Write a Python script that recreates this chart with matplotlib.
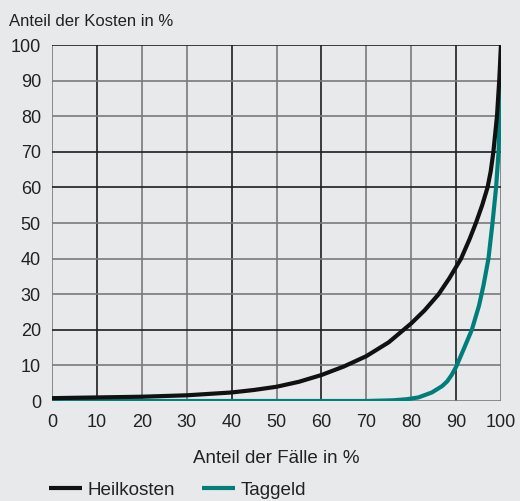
import matplotlib
matplotlib.use('Agg')
import matplotlib.pyplot as plt

# Anteil der Fälle in % (x) vs. Anteil der Kosten in % (y)
heil_x = [0, 5, 10, 15, 20, 25, 30, 35, 40, 45, 50, 55, 60, 65, 70, 75, 78.3,
          80, 83, 86.1, 88.5, 91.1, 93, 94.4, 95.8, 97.0, 97.7, 98.3, 99.1,
          99.6, 100]
heil_y = [0.8, 0.9, 1.0, 1.1, 1.2, 1.4, 1.6, 2.0, 2.4, 3.1, 4.0, 5.4, 7.3, 9.7,
          12.6, 16.5, 20.0, 21.8, 25.5, 30.0, 34.5, 40.0, 45.5, 50.0, 55.0,
          60.0, 64.5, 70.0, 80.0, 90.0, 100.0]

tag_x = [0, 70, 76, 79, 81.6, 84.6, 86.9, 88, 89, 90, 91.7, 93.5, 95.1, 96.1,
         97.2, 98.1, 98.9, 99.45, 99.7, 99.85, 100]
tag_y = [0, 0, 0.2, 0.5, 1.0, 2.4, 4.2, 5.5, 7.3, 9.6, 14.6, 20, 26.8, 32.5,
         40, 50, 60, 70, 80, 90, 100]

ticks = list(range(0, 101, 10))

BG = '#e8e9eb'
TEAL = '#007f7a'
DARK = '#1e1e1e'
GRAY = '#7a7a7a'
TXT = '#222222'

plt.rcParams['font.family'] = ['Liberation Sans', 'DejaVu Sans']

fig = plt.figure(figsize=(5.2, 5.01), dpi=100, facecolor=BG)
ax = fig.add_axes([0.1, 0.1996, 0.8635, 0.7104], facecolor=BG)

# grid lines in two shades, like the printed original
v_colors = [GRAY, DARK, GRAY, GRAY, DARK, GRAY, DARK, GRAY, GRAY, DARK, GRAY]
h_colors = [GRAY, GRAY, DARK, GRAY, GRAY, GRAY, DARK, DARK, GRAY, GRAY, DARK]
for t, c in zip(ticks, v_colors):
    ax.axvline(t, color=c, lw=1.2, zorder=1)
for t, c in zip(ticks, h_colors):
    ax.axhline(t, color=c, lw=1.2, zorder=1)

ax.plot(heil_x, heil_y, color='#111111', lw=3, label='Heilkosten', zorder=4,
        solid_capstyle='butt', solid_joinstyle='round')
ax.plot(tag_x, tag_y, color=TEAL, lw=3, label='Taggeld', zorder=3,
        solid_capstyle='butt', solid_joinstyle='round')

ax.set_xlim(0, 100)
ax.set_ylim(0, 100)
ax.set_xticks(ticks)
ax.set_yticks(ticks)
ax.tick_params(length=0, labelsize=13, colors=TXT)
ax.tick_params(axis='y', pad=8)
ax.tick_params(axis='x', pad=9)
for s in ax.spines.values():
    s.set_visible(False)

fig.text(0.017, 0.957, 'Anteil der Kosten in %', fontsize=12, color=TXT,
         va='center', ha='left')
ax.set_xlabel('Anteil der Fälle in %', fontsize=13.5, color=TXT, labelpad=14)

leg = ax.legend(loc='upper left', bbox_to_anchor=(-0.024, -0.205), ncol=2,
                frameon=False, fontsize=13.6, handlelength=1.75, handletextpad=0.3,
                columnspacing=1.45, borderaxespad=0)
for t in leg.get_texts():
    t.set_color(TXT)

fig.savefig('out.png', dpi=100, facecolor=BG)
